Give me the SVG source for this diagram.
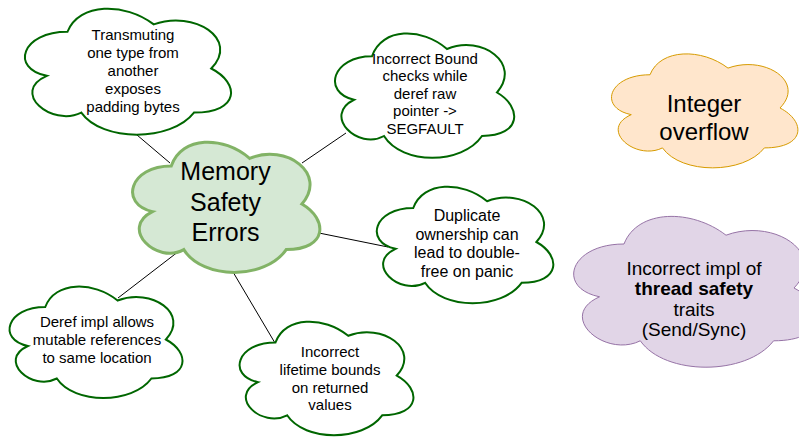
<svg xmlns="http://www.w3.org/2000/svg" width="799" height="437" viewBox="0 0 799 437">
<style>
text{font-family:"Liberation Sans",Arial,sans-serif;fill:#000;text-anchor:middle}
.w{fill:#fff;stroke:#006600;stroke-width:2}
.m{fill:#d5e8d4;stroke:#82b366;stroke-width:3}
.o{fill:#ffe6cc;stroke:#d79b00;stroke-width:1}
.p{fill:#e1d5e7;stroke:#9673a6;stroke-width:1}
.c{stroke:#000;stroke-width:1;fill:none}
.s15{font-size:15px}.s16{font-size:16px}.s19{font-size:19px}.s24{font-size:24px}.s25{font-size:25px}
</style>
<rect width="799" height="437" fill="#fff"/>
<g id="connectors">
<line class="c" x1="137" y1="135" x2="170" y2="163"/>
<line class="c" x1="302" y1="163" x2="346" y2="133"/>
<line class="c" x1="319" y1="233" x2="388" y2="247"/>
<line class="c" x1="183" y1="248" x2="118" y2="298"/>
<line class="c" x1="233" y1="272" x2="275" y2="343"/>
</g>
<g id="transmuting">
<path class="w" d="M67.5,31.75 C21.5,31.75 10,68.5 46.8,75.850 C10,92.02 51.4,127.3 81.3,112.6 C102,142 171,142 194,112.6 C240,112.6 240,83.2 211.25,68.5 C240,39.1 194,9.7 153.75,24.4 C125,2.35 79,2.35 67.5,31.75 Z"/>
<text class="s15"><tspan x="133" y="40.3">Transmuting</tspan><tspan x="133" y="58.1">one type from</tspan><tspan x="133" y="75.9">another</tspan><tspan x="133" y="93.7">exposes</tspan><tspan x="133" y="111.5">padding bytes</tspan></text>
</g>
<g id="bound">
<path class="w" d="M372,56.25 C332,56.25 322,92.5 354,99.75 C322,115.7 358,150.5 384,136 C402,165 462,165 482,136 C522,136 522,107 497,92.5 C522,63.5 482,34.5 447,49 C422,27.25 382,27.25 372,56.25 Z"/>
<text class="s15"><tspan x="425" y="63.6">Incorrect Bound</tspan><tspan x="425" y="81.2">checks while</tspan><tspan x="425" y="98.8">deref raw</tspan><tspan x="425" y="116.4">pointer -&gt;</tspan><tspan x="425" y="134">SEGFAULT</tspan></text>
</g>
<g id="memory">
<path class="m" d="M171.25,166 C129.45,166 119,204 152.44,211.6 C119,228.3 156.62,264.8 183.79,249.6 C202.6,280 265.3,280 286.2,249.6 C328,249.6 328,219.2 301.9,204 C328,173.6 286.2,143.2 249.6,158.4 C223.5,135.6 181.7,135.6 171.25,166 Z"/>
<text class="s25"><tspan x="225.5" y="180.4">Memory</tspan><tspan x="225.5" y="210.9">Safety</tspan><tspan x="225.5" y="241.4">Errors</tspan></text>
</g>
<g id="duplicate">
<path class="w" d="M413.25,208 C373.85,208 364,242 395.52,248.8 C364,263.8 399.46,296.4 425.07,282.8 C442.8,310 501.9,310 521.6,282.8 C561,282.8 561,255.6 536.4,242 C561,214.8 521.6,187.6 487.1,201.2 C462.5,180.8 423.1,180.8 413.25,208 Z"/>
<text class="s16"><tspan x="467" y="220.6">Duplicate</tspan><tspan x="467" y="239.5">ownership can</tspan><tspan x="467" y="258.4">lead to double-</tspan><tspan x="467" y="277.3">free on panic</tspan></text>
</g>
<g id="integer">
<path class="o" d="M650,74.75 C608.4,74.75 598,108 631.28,114.65 C598,129.28 635.44,161.2 662.48,147.9 C681.2,174.5 743.6,174.5 764.4,147.9 C806,147.9 806,121.3 780,108 C806,81.4 764.4,54.8 728,68.1 C702,48.15 660.4,48.15 650,74.75 Z"/>
<text class="s24"><tspan x="704" y="111.7">Integer</tspan><tspan x="704" y="140">overflow</tspan></text>
</g>
<g id="thread">
<path class="p" d="M624,244 C569.6,244 556,288 599.52,296.8 C556,316.16 604.96,358.4 640.32,340.8 C664.8,376 746.4,376 773.6,340.8 C828,340.8 828,305.6 794,288 C828,252.8 773.6,217.6 726,235.2 C692,208.8 637.6,208.8 624,244 Z"/>
<text class="s19"><tspan x="694" y="274.5">Incorrect impl of</tspan><tspan x="694" y="295" font-weight="bold">thread safety</tspan><tspan x="694" y="315.5">traits</tspan><tspan x="694" y="336">(Send/Sync)</tspan></text>
</g>
<g id="deref">
<path class="w" d="M45.25,307 C6.65,307 -3,339.5 27.88,346 C-3,360.3 31.74,391.5 56.83,378.5 C74.2,404.5 132.1,404.5 151.4,378.5 C190,378.5 190,352.5 165.9,339.5 C190,313.5 151.4,287.5 117.6,300.5 C93.5,281 54.9,281 45.25,307 Z"/>
<text class="s15"><tspan x="97" y="327">Deref impl allows</tspan><tspan x="97" y="345.2">mutable references</tspan><tspan x="97" y="363.4">to same location</tspan></text>
</g>
<g id="lifetime">
<path class="w" d="M275.5,342.43 C236.7,342.43 227,375.55 258.04,382.18 C227,396.75 261.92,428.55 287.14,415.3 C304.6,441.8 362.8,441.8 382.2,415.3 C421,415.3 421,388.8 396.75,375.55 C421,349.05 382.2,322.55 348.25,335.8 C324,315.93 285.2,315.93 275.5,342.43 Z"/>
<text class="s15"><tspan x="330" y="357">Incorrect</tspan><tspan x="330" y="374.8">lifetime bounds</tspan><tspan x="330" y="392.6">on returned</tspan><tspan x="330" y="410.4">values</tspan></text>
</g>
</svg>
